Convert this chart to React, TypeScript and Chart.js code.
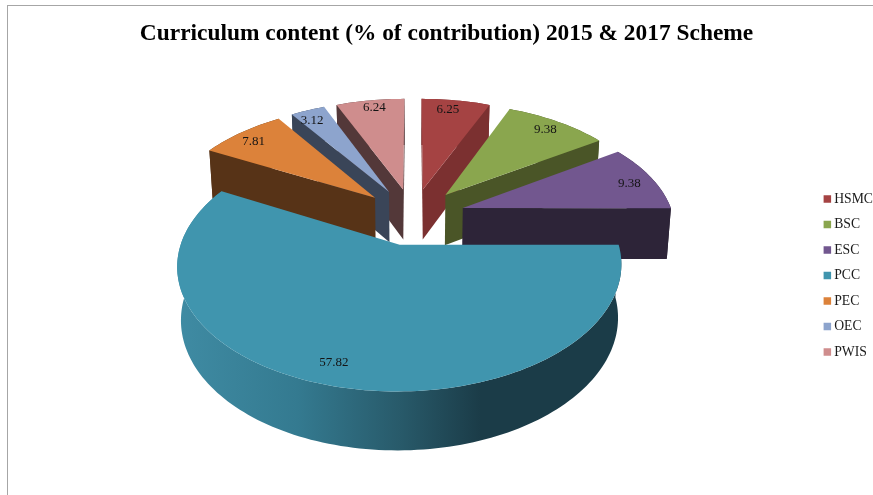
import React, { useEffect, useRef } from "react";
import { Chart, registerables } from "chart.js";

Chart.register(...registerables);

const categories = ["HSMC", "BSC", "ESC", "PCC", "PEC", "OEC", "PWIS"];
const contribution = [6.25, 9.38, 9.38, 57.82, 7.81, 3.12, 6.24];
const topColors = ["#a54343", "#8aa64e", "#72578f", "#4095ae", "#dc823a", "#8da4cd", "#cf8d8d"];
const wallColors = ["#7b3030", "#4a5527", "#2d2438", "#1f4653", "#573317", "#3a4558", "#533839"];
const titleText = "Curriculum content (% of contribution) 2015 & 2017 Scheme";
const serif = "'Liberation Serif', serif";

// Perspective model of the tilted pie, in units of the pie radius.
const CX = 413;
const FOCAL = 210.5;
const PERSPECTIVE = 0.16;
const TOP_Y0 = 216.2;
const TOP_YS = 113;
const BOTTOM_Y0 = 267.4;
const BOTTOM_YS = 118;
const BOTTOM_SHRINK = 0.984;
const EXPLODE = 0.25;

// Value label placement along each wedge: radial fraction and small angular turn.
const labelReach = [0.88, 0.88, 0.87, 0.87, 0.87, 0.87, 0.91];
const labelTurn = [-0.03, 0, 0.025, 0.045, -0.03, -0.035, 0.01];

type P = { x: number; y: number };

function project(xw: number, zw: number, bottom: boolean): P {
  const w = 1 + PERSPECTIVE * zw;
  const g = zw / w;
  const sx = (FOCAL * xw) / w;
  return bottom
    ? { x: CX + BOTTOM_SHRINK * sx, y: BOTTOM_Y0 - BOTTOM_YS * g }
    : { x: CX + sx, y: TOP_Y0 - TOP_YS * g };
}

function fillPoly(ctx: CanvasRenderingContext2D, pts: P[], fill: string | CanvasGradient) {
  ctx.beginPath();
  pts.forEach((p, i) => (i ? ctx.lineTo(p.x, p.y) : ctx.moveTo(p.x, p.y)));
  ctx.closePath();
  ctx.fillStyle = fill;
  ctx.fill();
}

function signedArea(pts: P[]) {
  let a = 0;
  pts.forEach((p, i) => {
    const q = pts[(i + 1) % pts.length];
    a += p.x * q.y - q.x * p.y;
  });
  return a / 2;
}

// Replaces the flat arcs with extruded wedges, using the angles Chart.js computed.
const pie3d = {
  id: "pie3d",
  beforeDatasetsDraw(chart: Chart) {
    const ctx = chart.ctx;
    const arcs = chart.getDatasetMeta(0).data as any[];
    const slices = arcs.map((arc, i) => {
      const a0 = arc.startAngle + Math.PI / 2;
      const a1 = arc.endAngle + Math.PI / 2;
      const mid = (a0 + a1) / 2;
      return { i, a0, a1, mid, ox: EXPLODE * Math.sin(mid), oz: EXPLODE * Math.cos(mid) };
    });
    const backToFront = [...slices].sort((p, q) => q.oz - p.oz);

    for (const s of backToFront) {
      const at = (t: number, r: number, bottom: boolean) =>
        project(s.ox + r * Math.sin(t), s.oz + r * Math.cos(t), bottom);
      const steps = Math.max(12, Math.ceil((s.a1 - s.a0) * 40));
      const topArc: P[] = [];
      const botArc: P[] = [];
      for (let k = 0; k <= steps; k++) {
        const t = s.a0 + ((s.a1 - s.a0) * k) / steps;
        topArc.push(at(t, 1, false));
        botArc.push(at(t, 1, true));
      }

      let wall: string | CanvasGradient = wallColors[s.i];
      if (s.i === 3) {
        const grad = ctx.createLinearGradient(178, 0, 622, 0);
        grad.addColorStop(0, "#3f8ba3");
        grad.addColorStop(0.27, "#347a90");
        grad.addColorStop(0.5, "#285a6a");
        grad.addColorStop(0.68, "#1b3c48");
        grad.addColorStop(1, "#1b3c48");
        wall = grad;
      }
      fillPoly(ctx, [...topArc, ...[...botArc].reverse()], wall);

      const startWall = [at(0, 0, false), at(s.a0, 1, false), at(s.a0, 1, true), at(0, 0, true)];
      const endWall = [at(0, 0, false), at(s.a1, 1, false), at(s.a1, 1, true), at(0, 0, true)];
      if (signedArea(startWall) < 0) fillPoly(ctx, startWall, wallColors[s.i]);
      if (signedArea(endWall) > 0) fillPoly(ctx, endWall, wallColors[s.i]);

      fillPoly(ctx, [at(0, 0, false), ...topArc], topColors[s.i]);
    }

    ctx.save();
    ctx.font = `13px ${serif}`;
    ctx.fillStyle = "#141414";
    ctx.textAlign = "center";
    ctx.textBaseline = "middle";
    for (const s of slices) {
      const t = s.mid + labelTurn[s.i];
      const r = labelReach[s.i];
      const p = project(s.ox + r * Math.sin(t), s.oz + r * Math.cos(t), false);
      ctx.fillText(contribution[s.i].toFixed(2), p.x, p.y);
    }
    ctx.restore();
    return false;
  },
};

export default function App() {
  const canvasRef = useRef<HTMLCanvasElement | null>(null);

  useEffect(() => {
    const chart = new Chart(canvasRef.current as HTMLCanvasElement, {
      type: "pie",
      data: {
        labels: categories,
        datasets: [{ data: contribution, backgroundColor: topColors, borderWidth: 0 }],
      },
      options: {
        responsive: false,
        animation: false,
        layout: { padding: { top: 20, right: -10, bottom: -36, left: 10 } },
        plugins: {
          title: {
            display: true,
            text: titleText,
            color: "#000",
            font: { family: serif, size: 23.4, weight: "bold" },
            padding: { top: 0, bottom: 0 },
          },
          legend: {
            position: "right",
            labels: {
              usePointStyle: true,
              pointStyle: "rect",
              boxWidth: 0.01,
              boxHeight: 7.5,
              padding: 11.8,
              color: "#1a1a1a",
              font: { family: serif, size: 13.7 },
            },
          },
          tooltip: { enabled: false },
        },
      },
      plugins: [pie3d],
    } as any);
    return () => chart.destroy();
  }, []);

  return (
    <div style={{ position: "fixed", left: 0, top: 0, width: 873, height: 495, background: "#fff", overflow: "hidden" }}>
      <div
        style={{
          position: "absolute",
          left: 7,
          top: 5,
          right: -4,
          bottom: -4,
          borderLeft: "1px solid #a6a6a6",
          borderTop: "1px solid #a6a6a6",
        }}
      />
      <canvas ref={canvasRef} width={873} height={495} style={{ position: "absolute", left: 0, top: 0 }} />
    </div>
  );
}
